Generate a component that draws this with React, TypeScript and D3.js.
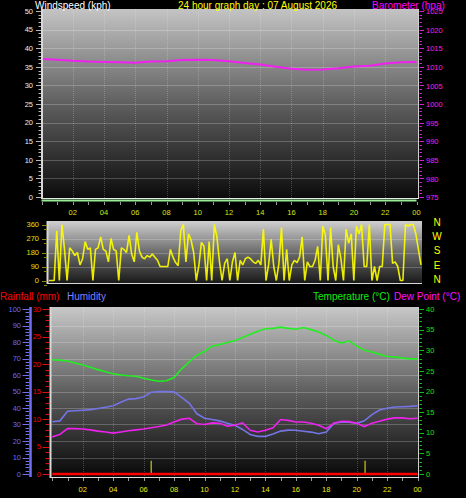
import React from 'react';
import * as d3 from 'd3';

const WIDTH = 466;
const HEIGHT = 498;
const FONT = '"Liberation Sans", Arial, sans-serif';

// labels under each panel, every two hours
const hourLabels = ['02', '04', '06', '08', '10', '12', '14', '16', '18', '20', '22', '00'];
const labelHours = [2, 4, 6, 8, 10, 12, 14, 16, 18, 20, 22, 24];

// top panel: hourly readings 00:00 .. 24:00
const hourly = d3.range(0, 25);
const barometer = [
  1012.1, 1011.9, 1011.6, 1011.4, 1011.3, 1011.2, 1011.1, 1011.4, 1011.5, 1011.8,
  1011.9, 1011.8, 1011.5, 1011.0, 1010.6, 1010.0, 1009.5, 1009.2, 1009.3, 1009.6,
  1010.1, 1010.3, 1010.9, 1011.2, 1011.3,
];
const windSpeed = [0, 0, 0, 0, 0, 0, 0, 0, 0, 0, 0, 0, 0, 0, 0, 0, 0, 0, 0, 0, 0, 0, 0, 0, 0];
const windTicks = [0, 5, 10, 15, 20, 25, 30, 35, 40, 45, 50];
const baroTicks = [975, 980, 985, 990, 995, 1000, 1005, 1010, 1015, 1020, 1025];

// middle panel: wind direction every 10 minutes
const dirTimes = d3.range(0, 145).map(i => i / 6);
const windDir = [
  0, 0, 0, 320, 0, 360,
  200, 0, 210, 190, 160, 180,
  100, 140, 250, 200, 210, 0,
  200, 210, 280, 200, 190, 120,
  270, 200, 190, 0, 210, 200,
  180, 290, 170, 120, 310, 190,
  150, 140, 160, 150, 170, 150,
  130, 90, 90, 90, 90, 200,
  150, 115, 95, 320, 360, 120,
  300, 260, 180, 0, 95, 245,
  220, 0, 250, 0, 360, 280,
  120, 0, 110, 140, 0, 120,
  180, 0, 130, 100, 140, 150,
  140, 120, 110, 130, 100, 330,
  0, 100, 265, 90, 0, 110,
  340, 0, 200, 0, 100, 130,
  115, 150, 280, 0, 120, 90,
  90, 130, 220, 0, 350, 290,
  0, 340, 90, 0, 230, 140,
  0, 330, 240, 300, 0, 350,
  300, 360, 90, 90, 360, 0,
  90, 0, 90, 90, 360, 360,
  360, 110, 120, 90, 0, 0,
  360, 350, 360, 360, 300, 200,
  100,
];
const dirTicks = [0, 90, 180, 270, 360];
const compass = ['N', 'W', 'S', 'E', 'N'];

// bottom panel: half-hourly readings
const halfHours = d3.range(0, 49).map(i => i / 2);
const temperature = [
  27.7, 27.6, 27.4, 26.9, 26.4, 25.9, 25.3, 24.8, 24.3, 24.0, 23.8, 23.7, 23.2, 22.8, 22.5,
  22.6, 23.4, 25.5, 27.2, 28.8, 29.7, 31.0, 31.4, 31.9, 32.3, 33.1, 33.9, 34.6, 35.2, 35.3,
  35.6, 35.3, 35.1, 35.5, 35.0, 34.4, 33.6, 32.4, 31.7, 32.3, 31.0, 30.0, 29.6, 29.0, 28.5,
  28.4, 28.1, 27.9, 27.9,
];
const humidity = [
  31.7, 32.2, 38.0, 38.3, 38.6, 39.0, 39.7, 40.5, 41.4, 43.5, 45.4, 45.7, 46.8, 49.5, 49.9,
  49.9, 49.8, 46.5, 42.8, 36.5, 33.8, 33.0, 32.2, 30.8, 29.5, 27.0, 24.0, 22.8, 22.8, 24.3,
  26.0, 26.6, 26.5, 25.9, 25.4, 24.4, 25.5, 30.7, 31.6, 31.4, 30.7, 32.2, 36.0, 38.8, 39.8,
  40.6, 40.8, 41.0, 41.4,
];
const dewPoint = [
  9.0, 9.6, 11.0, 11.0, 10.9, 10.7, 10.4, 10.2, 9.9, 10.2, 10.5, 10.7, 10.9, 11.2, 11.5,
  11.9, 12.6, 13.3, 13.5, 12.2, 12.0, 12.4, 12.3, 11.6, 11.8, 12.4, 10.6, 10.2, 10.6, 11.2,
  13.2, 13.0, 12.6, 12.6, 12.3, 11.8, 11.0, 12.3, 12.8, 12.7, 12.3, 11.5, 12.3, 12.8, 13.3,
  13.6, 13.6, 13.4, 13.5,
];
const rainfall = [0, 0, 0, 0, 0, 0, 0, 0, 0, 0, 0, 0, 0, 0, 0, 0, 0, 0, 0, 0, 0, 0, 0, 0, 0];
const markerHours = [6.5, 20.55];
const markerRain = [2.4, 2.4];
const humTicks = [0, 10, 20, 30, 40, 50, 60, 70, 80, 90, 100];
const rainTicks = [0, 5, 10, 15, 20, 25, 30];
const tempTicks = [0, 5, 10, 15, 20, 25, 30, 35, 40];

// scales
const xTop = d3.scaleLinear().domain([0, 24]).range([41.5, 416.5]);
const yWind = d3.scaleLinear().domain([0, 50]).range([197, 11]);
const yBaro = d3.scaleLinear().domain([975, 1025]).range([197, 11]);

const xMid = d3.scaleLinear().domain([0, 24]).range([49, 421]);
const yDir = d3.scaleLinear().domain([0, 360]).range([280.5, 224.5]);

const xBot = d3.scaleLinear().domain([0, 24]).range([52.3, 417.6]);
const yHum = d3.scaleLinear().domain([0, 100]).range([474, 309]);
const yRain = d3.scaleLinear().domain([0, 30]).range([474, 309]);
const yTemp = d3.scaleLinear().domain([0, 40]).range([474, 309]);

const lineOf = (xs: number[], ys: number[], x: d3.ScaleLinear<number, number>, y: d3.ScaleLinear<number, number>, dy = 0) =>
  d3.line<number>()
    .x((_, i) => x(xs[i]))
    .y(d => y(d) + dy)(ys) || '';

const GRID = 'rgba(255,255,255,0.22)';

const Gradient = ({ id, top, bottom }: { id: string; top: string; bottom: string }) => (
  <linearGradient id={id} x1="0" y1="0" x2="0" y2="1">
    <stop offset="0%" stopColor={top} />
    <stop offset="50%" stopColor={d3.interpolateRgb(top, bottom)(0.55)} />
    <stop offset="100%" stopColor={bottom} />
  </linearGradient>
);

// tick marks along a vertical axis: major at every labelled value, minor in between
const vTicks = (scale: d3.ScaleLinear<number, number>, step: number, x0: number, x1: number, xm: number, color: string, key: string) => {
  const [lo, hi] = scale.domain();
  const out: JSX.Element[] = [];
  const n = Math.round((hi - lo) / step);
  for (let i = 0; i <= n; i++) {
    const v = lo + i * step;
    const y = Math.round(scale(v)) + 0.5;
    out.push(<line key={key + i} x1={i % 5 === 0 ? x0 : xm} x2={x1} y1={y} y2={y} stroke={color} strokeWidth={1} />);
  }
  return out;
};

const TopPanel = () => (
  <g>
    <rect x={42} y={9} width={376} height={189} fill="url(#gTop)" />
    {windTicks.slice(1, -1).map(t => (
      <line key={'hg' + t} x1={43} x2={418} y1={Math.round(yWind(t)) + 0.5} y2={Math.round(yWind(t)) + 0.5} stroke={GRID} />
    ))}
    {labelHours.slice(0, -1).map(h => (
      <line key={'vg' + h} x1={Math.round(xTop(h)) + 0.5} x2={Math.round(xTop(h)) + 0.5} y1={9} y2={198} stroke={GRID} strokeDasharray="1,1" />
    ))}
    <path d={lineOf(hourly, barometer, xTop, yBaro)} fill="none" stroke="#f020f0" strokeWidth={2} />
    <line x1={42} x2={42} y1={9} y2={199} stroke="#d8d8d8" strokeWidth={2} />
    <line x1={418.5} x2={418.5} y1={9} y2={199} stroke="#d0d0d0" />
    <line x1={42} x2={419} y1={198.5} y2={198.5} stroke="#e8e8e8" />
    <path d={lineOf(hourly, windSpeed, xTop, yWind, 3.5)} fill="none" stroke="#98ec98" strokeWidth={2} />
    {d3.range(0, 25).map(h => (
      <line key={'xt' + h} x1={Math.round(xTop(h)) + 0.5} x2={Math.round(xTop(h)) + 0.5} y1={202} y2={205} stroke="#9a9a9a" />
    ))}
    {vTicks(yWind, 1, 36, 41, 38.5, '#b8b8b8', 'lt')}
    {vTicks(yBaro, 1, 424, 419.5, 422, '#d020d0', 'rt')}
    {windTicks.map(t => (
      <text key={'wl' + t} x={33} y={yWind(t) + 2.7} textAnchor="end" fill="#e4f0ff" fontSize={7.5}>{t}</text>
    ))}
    {baroTicks.map(t => (
      <text key={'bl' + t} x={426} y={yBaro(t) + 3.2} fill="#f020f0" fontSize={7.5}>{t}</text>
    ))}
    {hourLabels.map((l, i) => (
      <text key={'xl' + l + i} x={xTop(labelHours[i])} y={214.5} textAnchor="middle" fill="#d8e418" fontSize={7.5}>{l}</text>
    ))}
    <text x={35} y={8.5} fill="#ffffff" fontSize={10}>Windspeed (kph)</text>
    <text x={257.5} y={8.5} fill="#ffff00" fontSize={10} textAnchor="middle">24 hour graph day : 07 August 2026</text>
    <text x={372} y={8.5} fill="#ff00ff" fontSize={10}>Barometer (hpa)</text>
  </g>
);

const MidPanel = () => (
  <g>
    <rect x={47} y={221} width={375} height={62} fill="url(#gMid)" />
    {dirTicks.slice(1, -1).map(t => (
      <line key={'dg' + t} x1={48} x2={422} y1={Math.round(yDir(t)) + 0.5} y2={Math.round(yDir(t)) + 0.5} stroke={GRID} />
    ))}
    <line x1={47.5} x2={47.5} y1={221} y2={284} stroke="#d8d8d8" strokeWidth={2} />
    <line x1={47} x2={422} y1={283.5} y2={283.5} stroke="#d8d8d8" />
    <path d={lineOf(dirTimes, windDir, xMid, yDir)}
      fill="none" stroke="#ffff00" strokeWidth={1.6} strokeOpacity={0.9} strokeLinejoin="bevel" />
    {dirTicks.map(t => (
      <g key={'dt' + t}>
        <line x1={42} x2={47} y1={Math.round(yDir(t)) + 0.5} y2={Math.round(yDir(t)) + 0.5} stroke="#8a8a10" />
        <line x1={44} x2={47} y1={Math.round(yDir(t)) + 4.5} y2={Math.round(yDir(t)) + 4.5} stroke="#8a8a10" />
        <text x={39} y={yDir(t) + 2.7} textAnchor="end" fill="#e0e000" fontSize={7.5}>{t}</text>
      </g>
    ))}
    {compass.map((c, i) => (
      <text key={'c' + i} x={437} y={yDir(dirTicks[dirTicks.length - 1 - i]) + 1.5 + i * 0.2} textAnchor="middle" fill="#ffff00" fontSize={10}>{c}</text>
    ))}
  </g>
);

const BottomPanel = () => (
  <g>
    <rect x={50} y={307} width={368} height={170} fill="url(#gBot)" />
    {humTicks.slice(1, -1).map(t => (
      <line key={'hg' + t} x1={51} x2={418} y1={Math.round(yHum(t)) + 0.5} y2={Math.round(yHum(t)) + 0.5} stroke={GRID} />
    ))}
    {labelHours.slice(0, -1).map(h => (
      <line key={'vg' + h} x1={Math.round(xBot(h)) + 0.5} x2={Math.round(xBot(h)) + 0.5} y1={307} y2={477} stroke={GRID} strokeDasharray="1,1" />
    ))}
    <path d={lineOf(halfHours, temperature, xBot, yTemp)} fill="none" stroke="#22ee22" strokeWidth={1.6} />
    <path d={lineOf(halfHours, humidity, xBot, yHum)} fill="none" stroke="#7474e4" strokeWidth={1.6} />
    <path d={lineOf(halfHours, dewPoint, xBot, yTemp)} fill="none" stroke="#ee22ee" strokeWidth={1.6} />
    {markerHours.map((h, i) => (
      <line key={'mk' + i} x1={xBot(h)} x2={xBot(h)} y1={yRain(markerRain[i])} y2={yRain(0)} stroke="#a8a418" strokeWidth={1.5} />
    ))}
    <path d={lineOf(hourly, rainfall, xBot, yRain)} fill="none" stroke="#ff0000" strokeWidth={2.5} />
    <line x1={50.5} x2={50.5} y1={307} y2={478} stroke="#d8d8d8" strokeWidth={2} />
    <line x1={418.5} x2={418.5} y1={307} y2={478} stroke="#d0d0d0" />
    <line x1={50} x2={419} y1={477.5} y2={477.5} stroke="#e0e0e0" />
    {d3.range(0, 25).map(h => (
      <line key={'xt' + h} x1={Math.round(xBot(h)) + 0.5} x2={Math.round(xBot(h)) + 0.5} y1={478} y2={481} stroke="#9a9a9a" />
    ))}
    {/* humidity axis */}
    <line x1={30.5} x2={30.5} y1={307} y2={477} stroke="#7070f0" strokeWidth={2.5} />
    {vTicks(yHum, 2, 22.5, 29, 25.5, '#7070f0', 'ht')}
    {humTicks.map(t => (
      <text key={'hl' + t} x={21} y={yHum(t) + 2.7} textAnchor="end" fill="#6a6af4" fontSize={7.5}>{t}</text>
    ))}
    {/* rainfall axis */}
    {vTicks(yRain, 1, 42.5, 49, 45.5, '#e01010', 'rt')}
    {rainTicks.map(t => (
      <text key={'rl' + t} x={41} y={yRain(t) + 2.7} textAnchor="end" fill="#ee0000" fontSize={7.5}>{t}</text>
    ))}
    {/* temperature axis */}
    {vTicks(yTemp, 1, 424, 419.5, 422, '#10c010', 'tt')}
    {tempTicks.map(t => (
      <text key={'tl' + t} x={426} y={yTemp(t) + 2.7} fill="#10e010" fontSize={7.5}>{t}</text>
    ))}
    {hourLabels.map((l, i) => (
      <text key={'xl' + l + i} x={xBot(labelHours[i])} y={491.5} textAnchor="middle" fill="#ecec10" fontSize={7.5}>{l}</text>
    ))}
    <text x={0} y={300} fill="#ff0000" fontSize={10}>Rainfall (mm)</text>
    <text x={67} y={300} fill="#8080ff" fontSize={10}>Humidity</text>
    <text x={313} y={300} fill="#10ee10" fontSize={10}>Temperature (°C)</text>
    <text x={394} y={300} fill="#ff10ff" fontSize={10}>Dew Point (°C)</text>
  </g>
);

const App = () => (
  <svg width={WIDTH} height={HEIGHT} style={{ position: 'absolute', left: 0, top: 0, display: 'block', background: '#000' }}
    fontFamily={FONT}>
    <defs>
      <Gradient id="gTop" top="#c4c4c4" bottom="#0c0c0c" />
      <Gradient id="gMid" top="#d0d0d0" bottom="#1a1a1a" />
      <Gradient id="gBot" top="#c8c8c8" bottom="#080808" />
    </defs>
    <rect x={0} y={0} width={WIDTH} height={HEIGHT} fill="#000" />
    <TopPanel />
    <MidPanel />
    <BottomPanel />
  </svg>
);

export default App;
